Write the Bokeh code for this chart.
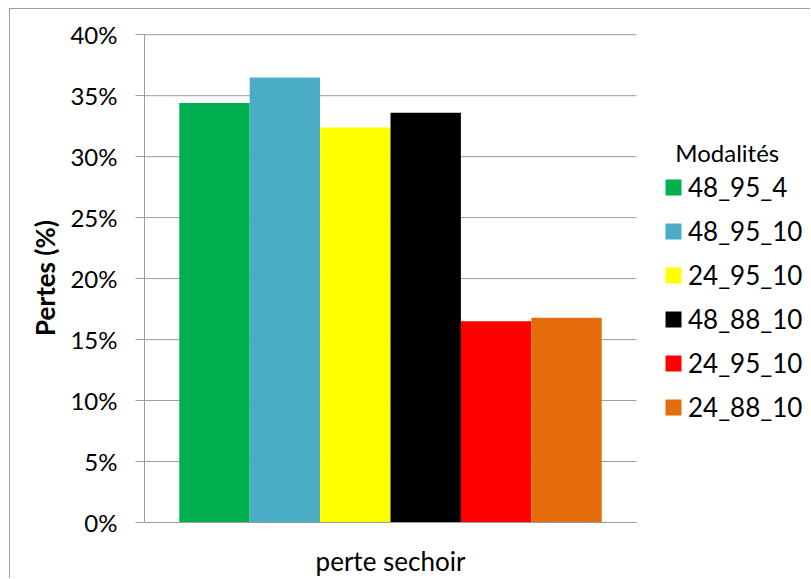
from bokeh.plotting import figure
from bokeh.models import (ColumnDataSource, Legend, LegendItem,
                          PrintfTickFormatter, FixedTicker, Range1d)
from bokeh.embed import file_html
from bokeh.resources import INLINE

category = "perte sechoir"
series_labels = ["48_95_4", "48_95_10", "24_95_10", "48_88_10", "24_95_10", "24_88_10"]
series_values = [34.4, 36.5, 32.4, 33.6, 16.5, 16.8]
series_colors = ["#00B050", "#4BACC6", "#FFFF00", "#000000", "#FF0000", "#E46C0A"]
y_ticks = [0, 5, 10, 15, 20, 25, 30, 35, 40]

FONT = "Lato"
GRID = "#9c9c9c"

# category slot spans x = 0..1 ; the right part of the frame (x > 1) holds the legend
cat_pos = 0.5
x_end = (811 - 144) / 492.0

p = figure(width=801, height=570, x_range=Range1d(0, x_end),
           y_range=Range1d(0, 40.1), output_backend="svg", toolbar_location=None,
           min_border_left=134, min_border_right=0, min_border_top=24, min_border_bottom=57)
p.styles = {"border-left": "1px solid #a0a0a0", "border-top": "1px solid #a0a0a0",
            "margin-left": "9px", "margin-top": "8px"}
p.outline_line_color = None
p.background_fill_color = "white"
p.border_fill_color = "white"
p.xgrid.grid_line_color = None
p.ygrid.grid_line_color = None

# horizontal gridlines across the category slot only
p.segment(x0=0, x1=1, y0=y_ticks, y1=y_ticks, line_color=GRID, line_width=1)

bar_w = 0.1431
n = len(series_values)
items = []
for i, (lab, val, col) in enumerate(zip(series_labels, series_values, series_colors)):
    src = ColumnDataSource(dict(x=[cat_pos + (i - (n - 1) / 2) * bar_w], top=[val]))
    r = p.vbar(x="x", top="top", width=bar_w, source=src, fill_color=col, line_color=None)
    items.append(LegendItem(label=lab, renderers=[r]))

legend = Legend(items=items, location=(519, 99), title="\u00a0\u00a0Modalités",
                title_text_font=FONT, title_text_font_size="24px", title_text_font_style="normal",
                title_text_color="#000000", title_standoff=4,
                label_text_font=FONT, label_text_font_size="26px", label_text_color="#000000",
                glyph_width=20, glyph_height=20, label_standoff=5, label_height=30, spacing=12,
                padding=0, margin=0, border_line_color=None, background_fill_alpha=0)
p.add_layout(legend, "center")

# y axis
ya = p.yaxis[0]
ya.ticker = FixedTicker(ticks=y_ticks)
ya.formatter = PrintfTickFormatter(format="%d%%")
ya.bounds = (0, 40)
ya.axis_label = "Pertes (%)"
ya.axis_label_text_font = FONT
ya.axis_label_text_font_size = "26px"
ya.axis_label_text_font_style = "bold"
ya.axis_label_text_color = "#000000"
ya.axis_label_standoff = 6
ya.major_label_text_font = FONT
ya.major_label_text_font_size = "24px"
ya.major_label_text_color = "#000000"
ya.major_label_standoff = 18
ya.major_tick_out = 9
ya.major_tick_in = 0
ya.minor_tick_line_color = None
ya.axis_line_color = GRID
ya.major_tick_line_color = GRID

# x axis: one category label under the bars
xa = p.xaxis[0]
xa.ticker = FixedTicker(ticks=[cat_pos])
xa.major_label_overrides = {cat_pos: category}
xa.bounds = (0, 1)
xa.major_label_text_font = FONT
xa.major_label_text_font_size = "26px"
xa.major_label_text_color = "#000000"
xa.major_label_standoff = 16
xa.major_tick_line_color = None
xa.minor_tick_line_color = None
xa.axis_line_color = GRID

open("out.html", "w").write(file_html(p, INLINE))
